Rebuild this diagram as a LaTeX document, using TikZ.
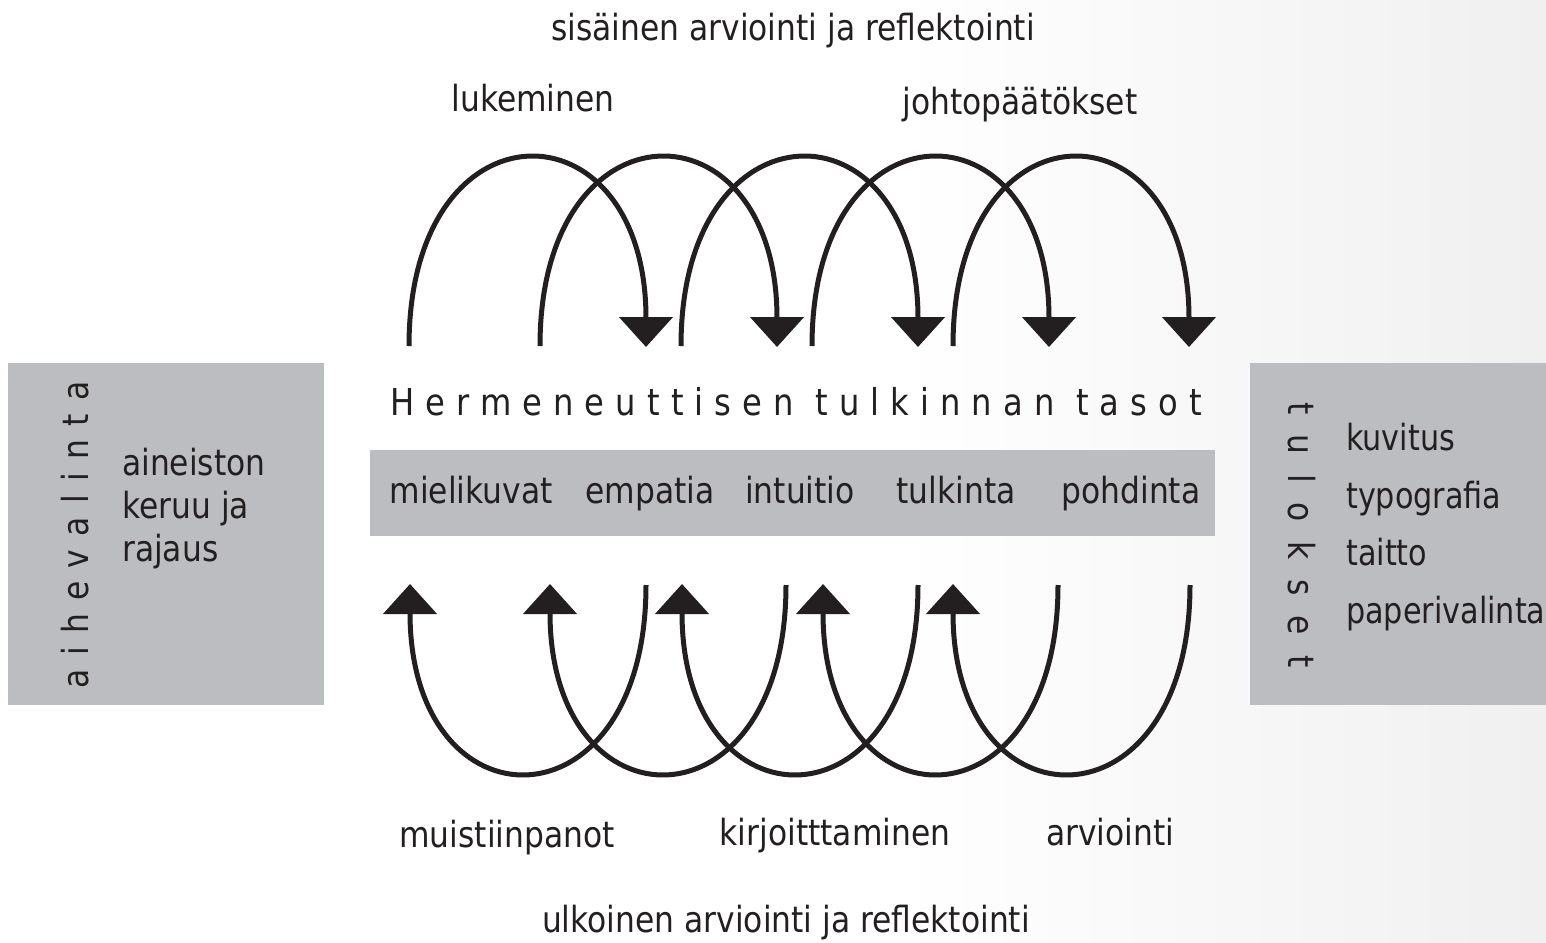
\documentclass[tikz,border=0pt]{standalone}
\usepackage{fontspec}
\setmainfont{DejaVu Sans}[FakeStretch=0.87]
\newfontfamily\spacedfont{DejaVu Sans}[FakeStretch=0.87, LetterSpace=30]
\newfontfamily\aihefont{DejaVu Sans}[FakeStretch=0.87, LetterSpace=37]
\newfontfamily\tulosfont{DejaVu Sans}[FakeStretch=0.87, LetterSpace=55]
\newfontfamily\listfont{DejaVu Sans}[FakeStretch=0.84]
\usetikzlibrary{arrows.meta, positioning}

\definecolor{boxgray}{RGB}{188,189,192}
\definecolor{inkblack}{RGB}{35,31,32}

\begin{document}
\begin{tikzpicture}[
    x=1pt, y=-1pt,
    >={Triangle[width=53pt, length=30pt]},
    looparc/.style={draw=inkblack, line width=5pt, ->},
    graybox/.style={fill=boxgray, inner sep=0pt, anchor=north west},
    txt/.style={text=inkblack, font=\fontsize{36}{43}\selectfont, inner sep=0pt, anchor=base},
    vtxt/.style={txt, anchor=center}
]

% Background
\useasboundingbox (0,0) rectangle (1546,942);
\fill[white] (0,0) rectangle (1546,942);
\shade[left color=white, right color=black!6] (900,0) rectangle (1546,942);

% Side boxes and level bar
\node[graybox, minimum width=316pt, minimum height=342pt] (leftbox) at (8,363) {};
\node[graybox, minimum width=296pt, minimum height=342pt] (rightbox) at (1250,363) {};
\node[graybox, minimum width=845pt, minimum height=86pt] (tasobar) at (370,450) {};

% Left box texts
\node[vtxt, rotate=90, font=\fontsize{36}{43}\aihefont] (aihetitle) at (75,535) {aihevalinta};
\node[txt, anchor=north west, align=left] (aineisto) at (122,448) {aineiston\\keruu ja\\rajaus};

% Right box texts
\node[vtxt, rotate=-90, font=\fontsize{36}{43}\tulosfont] (tulostitle) at (1302,535) {tulokset};
\foreach \w [count=\i] in {kuvitus, typografia, taitto, paperivalinta}
  \node[txt, anchor=base west, font=\fontsize{36}{43}\listfont] (tulos\i) at (1346,{393+57.5*\i}) {\w};

% Levels
\node[txt, font=\fontsize{37}{43}\spacedfont] (otsikko) at (796,415) {Hermeneuttisen tulkinnan tasot};
\foreach \w/\x in {mielikuvat/471, empatia/650, intuitio/800, tulkinta/956, pohdinta/1131}
  \node[txt] (taso-\w) at (\x,503) {\w};

% Upper labels
\node[txt] (sisainen) at (793,41) {sisäinen arviointi ja reflektointi};
\node[txt] (lukeminen) at (533,111) {lukeminen};
\node[txt] (johto) at (1020,114) {johtopäätökset};

% Lower labels
\node[txt] (muistiin) at (507,847) {muistiinpanot};
\node[txt] (kirjoitus) at (835,845) {kirjoitttaminen};
\node[txt] (arviointi) at (1110,845) {arviointi};
\node[txt] (ulkoinen) at (786,932) {ulkoinen arviointi ja reflektointi};

% Upper loops
\foreach \s/\e [count=\i] in {409/646, 540/777, 681/918, 812/1049, 953/1189} {
  \coordinate (ylaA\i) at (\s,346);
  \coordinate (ylaB\i) at (\e,347);
  \draw[looparc] (ylaA\i) .. controls +(0,-249) and +(0,-249) .. (ylaB\i);
}

% Lower loops
\foreach \s/\e [count=\i] in {646/410, 786/550, 918/682, 1058/823, 1190/953} {
  \coordinate (alaA\i) at (\s,585);
  \coordinate (alaB\i) at (\e,584);
  \draw[looparc] (alaA\i) .. controls +(0,249) and +(0,249) .. (alaB\i);
}

\end{tikzpicture}
\end{document}
